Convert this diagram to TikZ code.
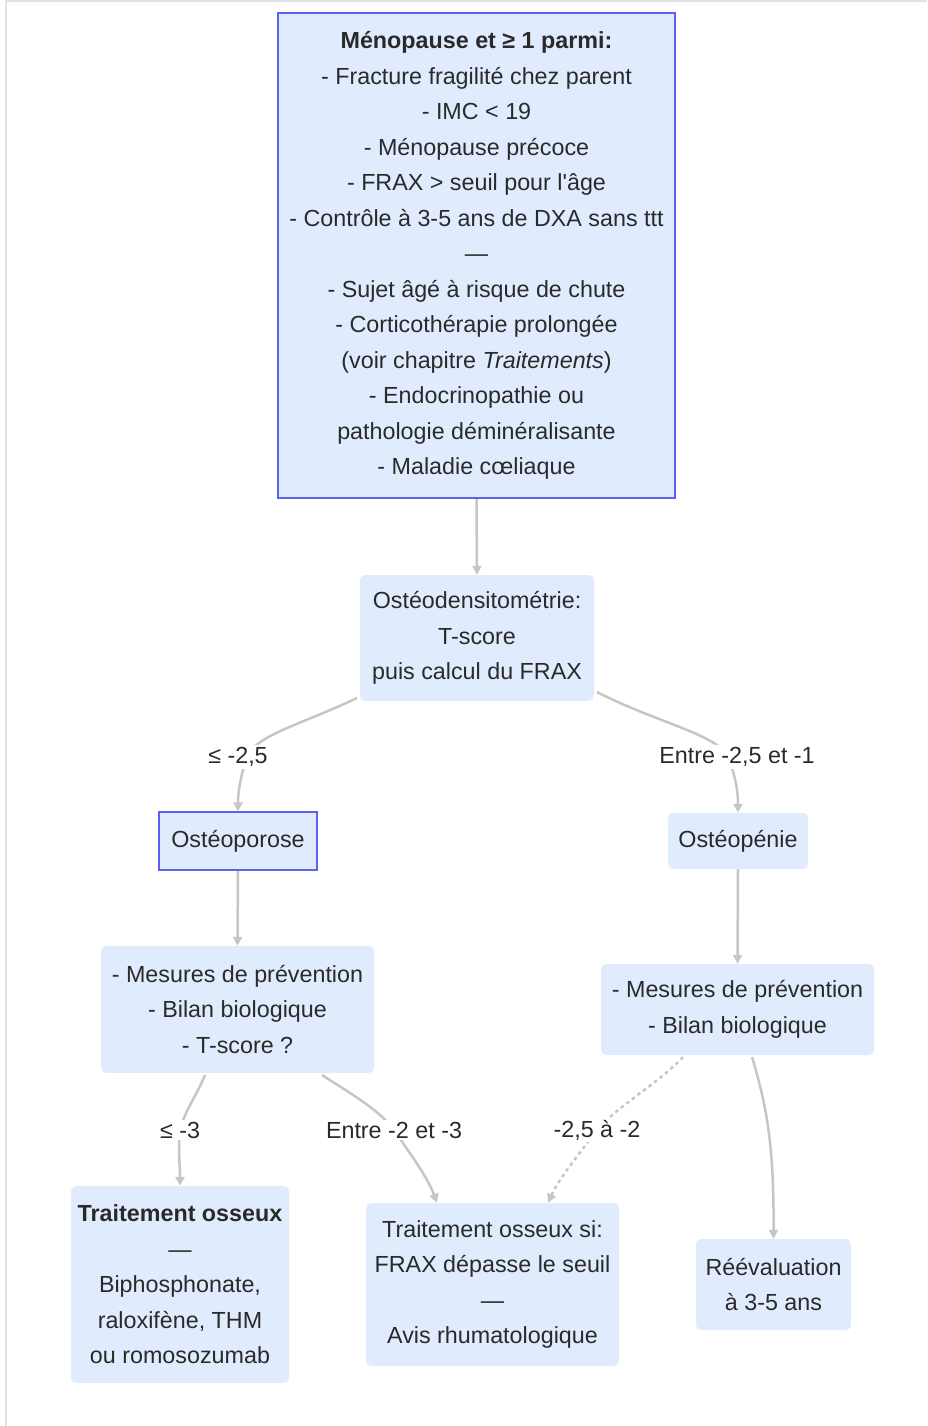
\documentclass[tikz,border=0pt]{standalone}
\usepackage{fontspec}
\setmainfont{Liberation Sans}[Ligatures=TeXOff]
\usetikzlibrary{arrows.meta}
\definecolor{boxfill}{HTML}{E0ECFE}
\definecolor{boxline}{HTML}{5B63EE}
\definecolor{edgecol}{HTML}{C6C6C6}
\definecolor{txt}{HTML}{2A2A2A}
\definecolor{framecol}{HTML}{E3E3E3}
\pgfdeclarelayer{bg}
\pgfsetlayers{bg,main}
\begin{document}
\begin{tikzpicture}[x=1pt,y=-1pt,
  every node/.style={font=\fontsize{23.3}{35.5}\selectfont, text=txt},
  box/.style={fill=boxfill, rounded corners=5pt, align=center, inner sep=0pt},
  hbox/.style={fill=boxfill, draw=boxline, line width=1.3pt, align=center, inner sep=0pt},
  edge/.style={draw=edgecol, line width=2.5pt, -{Triangle[length=9pt,width=9pt]}},
  dedge/.style={edge, dash pattern=on 3.5pt off 3.5pt},
  lbl/.style={fill=white, inner sep=2pt}]
\useasboundingbox (0,0) rectangle (927,1426);

\node[hbox, minimum width=397pt, minimum height=485pt] (top) at (476.5,255.5)
  {\textbf{Ménopause et ≥ 1 parmi:}\\
   - Fracture fragilité chez parent\\
   - IMC < 19\\
   - Ménopause précoce\\
   - FRAX > seuil pour l'âge\\
   - Contrôle à 3-5 ans de DXA sans ttt\\
   —\\
   - Sujet âgé à risque de chute\\
   - Corticothérapie prolongée\\
   (voir chapitre \textit{Traitements})\\
   - Endocrinopathie ou\\
   pathologie déminéralisante\\
   - Maladie cœliaque};

\node[box, minimum width=234pt, minimum height=126pt] (dens) at (477,638)
  {Ostéodensitométrie:\\ T-score\\ puis calcul du FRAX};

\node[hbox, minimum width=158pt, minimum height=58pt] (osteop) at (238,841) {Ostéoporose};
\node[box, minimum width=140pt, minimum height=56pt] (osteope) at (738,841) {Ostéopénie};

\node[box, minimum width=273pt, minimum height=127pt] (prevL) at (237.5,1009.5)
  {- Mesures de prévention\\ - Bilan biologique\\ - T-score ?};
\node[box, minimum width=273pt, minimum height=91pt] (prevR) at (737.5,1009.5)
  {- Mesures de prévention\\ - Bilan biologique};

\node[box, minimum width=218pt, minimum height=197pt] (trt) at (180,1284.5)
  {\textbf{Traitement osseux}\\ —\\ Biphosphonate,\\ raloxifène, THM\\ ou romosozumab};
\node[box, minimum width=253pt, minimum height=163pt] (trtsi) at (492.5,1284.5)
  {Traitement osseux si:\\ FRAX dépasse le seuil\\ —\\ Avis rhumatologique};
\node[box, minimum width=155pt, minimum height=91pt] (reeval) at (773.5,1284.5)
  {Réévaluation\\ à 3-5 ans};

\node[lbl] (l1) at (238,757) {≤ -2,5};
\node[lbl] (l2) at (737,757) {Entre -2,5 et -1};
\node[lbl] (l3) at (180,1130) {≤ -3};
\node[lbl] (l4) at (394,1130) {Entre -2 et -3};
\node[lbl] (l5) at (597,1130) {-2,5 à -2};

\coordinate (s1) at (357,698);
\coordinate (s2) at (597,692);
\coordinate (s3) at (205,1075);
\coordinate (s4) at (322,1075);
\coordinate (s5) at (683,1057);
\coordinate (s6) at (752,1057);
\coordinate (m1) at (247,757);
\coordinate (m2) at (728,757);
\coordinate (fa) at (6,1426);
\coordinate (fb) at (6,1);
\coordinate (fc) at (927,1);

\begin{pgfonlayer}{bg}
\draw[framecol, line width=2pt] (fa) -- (fb) -- (fc);
\draw[edge] (top.south) -- (dens.north);
\draw[edge] (s1) .. controls (300,725) and (256,735) .. (m1)
  .. controls (241,775) and (238,790) .. (osteop.north);
\draw[edge] (s2) .. controls (655,722) and (719,735) .. (m2)
  .. controls (735,775) and (738,790) .. (osteope.north);
\draw[edge] (osteop.south) -- (prevL.north);
\draw[edge] (osteope.south) -- (prevR.north);
\draw[edge] (s3) .. controls (197,1095) and (184,1112) .. (l3.center)
  .. controls (178,1150) and (180,1165) .. (trt.north);
\draw[edge] (s4) .. controls (348,1092) and (380,1110) .. (l4.center)
  .. controls (409,1152) and (428,1178) .. ([xshift=-55.5pt]trtsi.north);
\draw[dedge] (s5) .. controls (660,1082) and (615,1108) .. (l5.center)
  .. controls (582,1150) and (558,1180) .. ([xshift=55.5pt]trtsi.north);
\draw[edge] (s6) .. controls (768,1110) and (774,1150) .. (reeval.north);
\end{pgfonlayer}
\end{tikzpicture}
\end{document}
